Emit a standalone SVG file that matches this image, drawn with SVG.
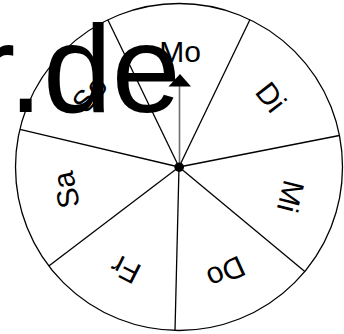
<svg xmlns="http://www.w3.org/2000/svg" width="344" height="334" viewBox="0 0 344 334">
  <style>
    .lbl { font-family: "Liberation Sans", Arial, sans-serif; font-size: 30px; fill: #000; text-anchor: middle; }
    .spoke { stroke: #000; stroke-width: 1.3; fill: none; }
    .big { font-family: "Liberation Sans", Arial, sans-serif; font-size: 124px; fill: #000; }
  </style>
  <rect width="344" height="344" fill="#fff"/>
  <g id="wheel">
    <circle cx="179" cy="167" r="163.5" fill="none" stroke="#000" stroke-width="1.3"/>
  </g>
  <g id="connectors">
    <line class="spoke" x1="179" y1="167" x2="249.9" y2="19.7"/>
    <line class="spoke" x1="179" y1="167" x2="339.4" y2="135.5"/>
    <line class="spoke" x1="179" y1="167" x2="304.8" y2="271.4"/>
    <line class="spoke" x1="179" y1="167" x2="175.0" y2="330.5"/>
    <line class="spoke" x1="179" y1="167" x2="48.8" y2="265.9"/>
    <line class="spoke" x1="179" y1="167" x2="19.9" y2="129.4"/>
    <line class="spoke" x1="179" y1="167" x2="107.8" y2="19.8"/>
  </g>
  <g id="seg-mo"><text class="lbl" x="180" y="62">Mo</text></g>
  <g id="seg-di"><text class="lbl" x="180" y="62" transform="rotate(52.3 179 167)">Di</text></g>
  <g id="seg-mi"><text class="lbl" x="180" y="62" transform="rotate(104.3 179 167)">Mi</text></g>
  <g id="seg-do"><text class="lbl" x="180" y="62" transform="rotate(155.5 179 167)">Do</text></g>
  <g id="seg-fr"><text class="lbl" x="180" y="62" transform="rotate(207.1 179 167)">Fr</text></g>
  <g id="seg-sa"><text class="lbl" x="180" y="62" transform="rotate(258 179 167)">Sa</text></g>
  <g id="seg-so"><text class="lbl" x="180" y="62" transform="rotate(308.8 179 167)">So</text></g>
  <g id="pointer">
    <line x1="179.5" y1="167" x2="179.5" y2="86" stroke="#707070" stroke-width="1.6"/>
    <polygon points="180,74 168.5,86.5 191,86.5" fill="#000"/>
    <circle cx="179.2" cy="167.2" r="4.8" fill="#000"/>
  </g>
  <text class="big" x="-26" y="112">r.de</text>
</svg>
